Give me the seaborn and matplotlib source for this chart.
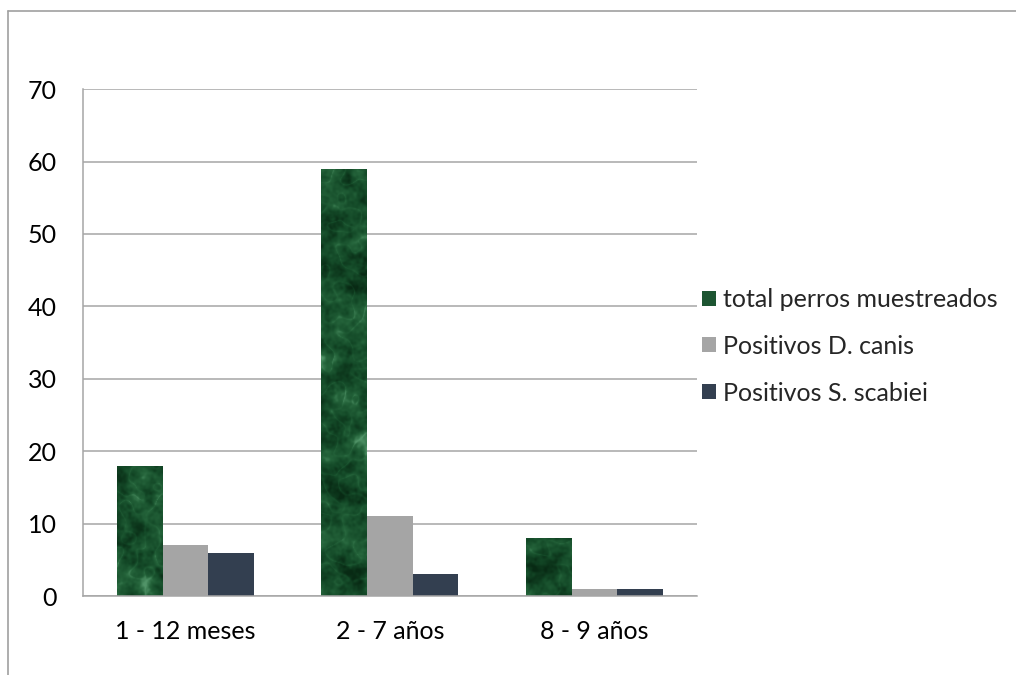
import numpy as np
import pandas as pd
import matplotlib
matplotlib.use("Agg")
import matplotlib.pyplot as plt
import seaborn as sns
from matplotlib.colors import LinearSegmentedColormap
from matplotlib.patches import Patch
from matplotlib.lines import Line2D

# --- data ---
grupos = ["1 - 12 meses", "2 - 7 años", "8 - 9 años"]
series = ["total perros muestreados", "Positivos D. canis", "Positivos S. scabiei"]
total_perros = [18, 59, 8]
positivos_dcanis = [7, 11, 1]
positivos_sscabiei = [6, 3, 1]
yticks = [0, 10, 20, 30, 40, 50, 60, 70]

colores = ["#1d5532", "#a5a5a5", "#333f50"]

df = pd.DataFrame({
    "grupo": grupos * 3,
    "serie": [series[0]] * 3 + [series[1]] * 3 + [series[2]] * 3,
    "valor": total_perros + positivos_dcanis + positivos_sscabiei,
})

sns.set_theme(style="white")
plt.rcParams["font.family"] = ["Lato", "DejaVu Sans"]
FS = 18

fig = plt.figure(figsize=(10.16, 6.75), dpi=100)
ax = fig.add_axes([0.0817, 0.117, 0.604, 0.751])

sns.barplot(data=df, x="grupo", y="valor", hue="serie", order=grupos,
            hue_order=series, palette=colores, saturation=1, width=0.67,
            dodge=True, ax=ax, legend=False, linewidth=0, errorbar=None)

ax.set_xlim(-0.5, 2.5)
ax.set_ylim(0, 70)
ax.set_yticks(yticks)
ax.set_xlabel("")
ax.set_ylabel("")
ax.yaxis.grid(True, color="#a6a6a6", linewidth=1.1)
ax.set_axisbelow(True)
for s in ["top", "right"]:
    ax.spines[s].set_visible(False)
for s in ["left", "bottom"]:
    ax.spines[s].set_color("#a6a6a6")
    ax.spines[s].set_linewidth(1.1)
ax.tick_params(axis="y", length=0, pad=19, labelsize=FS, colors="#000000")
ax.tick_params(axis="x", length=0, pad=17, labelsize=FS, colors="#000000")

# marble texture for the first series
def suavizar(a, sigma):
    h, w = a.shape
    fy = np.fft.fftfreq(h)[:, None]
    fx = np.fft.fftfreq(w)[None, :]
    g = np.exp(-2 * (np.pi * sigma) ** 2 * (fx ** 2 + fy ** 2))
    return np.real(np.fft.ifft2(np.fft.fft2(a) * g))

def norm(a):
    return (a - a.mean()) / a.std()

rng = np.random.default_rng(11)
H, W = 520, 620
base = norm(suavizar(rng.standard_normal((H, W)), 8))
medio = norm(suavizar(rng.standard_normal((H, W)), 3.5))
fino = norm(suavizar(rng.standard_normal((H, W)), 1.2))
vetas = np.exp(-np.abs(norm(suavizar(rng.standard_normal((H, W)), 5))) * 3.5)
textura = 0.38 + 0.13 * base + 0.08 * medio + 0.05 * fino + 0.24 * vetas
textura = np.clip(textura, 0, 1)
cmap_marmol = LinearSegmentedColormap.from_list(
    "marmol", ["#082a14", "#144a28", "#24633a", "#519468"])

n = len(grupos)
for p in ax.patches[:n]:
    p.set_facecolor("none")
    im = ax.imshow(textura, cmap=cmap_marmol, vmin=0, vmax=1, aspect="auto",
                   extent=(-0.5, 2.5, 0, 70), origin="lower", zorder=p.get_zorder(),
                   interpolation="bilinear")
    im.set_clip_path(p)
ax.set_xlim(-0.5, 2.5)
ax.set_ylim(0, 70)

# legend
handles = [Patch(facecolor=c, edgecolor="none") for c in colores]
fig.legend(handles, series, loc="center left", bbox_to_anchor=(0.691, 0.487),
           frameon=False, fontsize=FS, handlelength=0.55, handleheight=0.55,
           handletextpad=0.3, labelspacing=0.95, borderaxespad=0,
           borderpad=0)

# outer chart frame
fig.add_artist(Line2D([8 / 1016, 1.0], [1 - 11 / 675, 1 - 11 / 675],
                      color="#a0a0a0", linewidth=1.2, transform=fig.transFigure))
fig.add_artist(Line2D([8 / 1016, 8 / 1016], [0, 1 - 11 / 675],
                      color="#a0a0a0", linewidth=1.2, transform=fig.transFigure))

fig.savefig("out.png", dpi=100)
